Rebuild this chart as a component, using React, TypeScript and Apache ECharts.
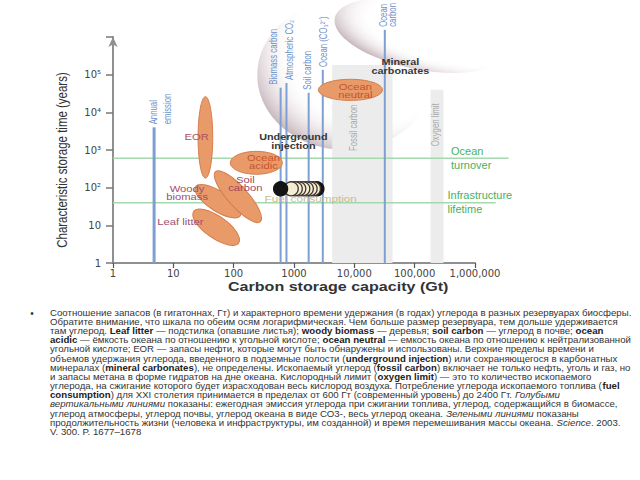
import React, { useEffect, useRef } from 'react';
import * as echarts from 'echarts';

// ---------- axes ----------
const xTickValues = [1, 10, 100, 1000, 10000, 100000, 1000000];
const xTickText = ['1', '10', '100', '1000', '10,000', '100,000', '1,000,000'];
const yTickValues = [1, 10, 100, 1000, 10000, 100000];
const yTickText = ['1', '10', '10²', '10³', '10⁴', '10⁵'];

// ---------- blue vertical lines (reservoirs) ----------
const reservoirNames = ['Annual\nemission', 'Biomass carbon', 'Atmospheric CO₂', 'Soil carbon', 'Ocean (CO₃²⁻)', 'Ocean\ncarbon'];
const reservoirCapacity = [4.8, 600, 750, 1750, 3000, 32000];
const reservoirTime = [4000, 45000, 60000, 33000, 134000, 1550000];

// ---------- green horizontal lines ----------
const timescaleNames = ['Ocean\nturnover', 'Infrastructure\nlifetime'];
const timescaleYears = [600, 40];
const timescaleEndCap = [3600000, 2200000];
const timescaleLabelCap = [400000, 350000];

// ---------- orange ellipses (major-axis ends in data coords) ----------
const ellipseNames = ['EOR', 'Woody\nbiomass', 'Leaf litter', 'Soil\ncarbon', 'Ocean\nacidic', 'Ocean\nneutral'];
const ellipseStartCap = [34, 23.4, 21.7, 50, 88, 2535];
const ellipseStartTime = [26000, 106, 23.4, 265, 457, 39500];
const ellipseEndCap = [34, 129, 121, 277, 640, 29200];
const ellipseEndTime = [180, 18, 3.4, 12.5, 457, 39500];
const ellipseAspect = [0.18, 0.37, 0.4, 0.3, 0.44, 0.33];
const ellipseLabelCap = [24.3, 16.9, 13.1, 156, 312, 10400];
const ellipseLabelTime = [2240, 72.8, 12.7, 127, 486, 37000];

// ---------- grey bands ----------
const bandNames = ['Fossil carbon', 'Oxygen limit'];
const bandFromCap = [4300, 184000];
const bandToCap = [43000, 300000];
const bandTopTime = [180000, 40000];
const bandLabelCap = [9660, 221000];
const bandLabelTime = [3870, 4650];

// ---------- undefined upper limits (fuzzy zones) ----------
const zoneNames = ['Underground\ninjection', 'Mineral\ncarbonates'];
const zoneCenterCap = [7100, 125000];
const zoneCenterTime = [98000, 1100000];
const zoneHalfWidthDec = [1.46, 1.45];
const zoneHalfHeightDec = [1.99, 0.9];
const zoneLabelCap = [975, 58000];
const zoneLabelTime = [1700, 166000];

// ---------- fuel consumption ----------
const fuelCapacity = [2400, 2100, 1850, 1600, 1400, 1200, 1050, 900, 600];
const fuelTime = 93;
const fuelLabel = 'Fuel consumption';
const fuelLabelCap = 1890;
const fuelLabelTime = 50;

// ---------- caption ----------
const captionLines = [
  'Соотношение запасов (в гигатоннах, Гт) и характерного времени удержания (в годах) углерода в разных резервуарах биосферы.',
  'Обратите внимание, что шкала по обеим осям логарифмическая. Чем больше размер резервуара, тем дольше удерживается',
  'там углерод. {b|Leaf litter} — подстилка (опавшие листья); {b|woody biomass} — деревья; {b|soil carbon} — углерод в почве; {b|ocean}',
  '{b|acidic} — ёмкость океана по отношению к угольной кислоте; {b|ocean neutral} — емкость океана по отношению к нейтрализованной',
  'угольной кислоте; EOR — запасы нефти, которые могут быть обнаружены и использованы. Верхние пределы времени и',
  'объемов удержания углерода, введенного в подземные полости ({b|underground injection}) или сохраняющегося в карбонатных',
  'минералах ({b|mineral carbonates}), не определены. Ископаемый углерод ({b|fossil carbon}) включает не только нефть, уголь и газ, но',
  'и запасы метана в форме гидратов на дне океана. Кислородный лимит ({b|oxygen limit}) — это то количество ископаемого',
  'углерода, на сжигание которого будет израсходован весь кислород воздуха. Потребление углерода ископаемого топлива ({b|fuel}',
  '{b|consumption}) для XXI столетия принимается в пределах от 600 Гт (современный уровень) до 2400 Гт. {i|Голубыми}',
  '{i|вертикальными линиями} показаны: ежегодная эмиссия углерода при сжигании топлива, углерод, содержащийся в биомассе,',
  'углерод атмосферы, углерод почвы, углерод океана в виде СО3-, весь углерод океана. {i|Зелеными линиями} показаны',
  'продолжительность жизни (человека и инфраструктуры, им созданной) и время перемешивания массы океана. {i|Science}. 2003.',
  'V. 300. P. 1677–1678',
];

// ---------- styles ----------
const FONT = '"Liberation Sans", Arial, Helvetica, sans-serif';
const BLUE = '#7d9fd2';
const BLUE_TEXT = '#6b91cb';
const GREEN = '#a3d9ac';
const GREEN_TEXT = '#48b062';
const ORANGE = '#e99a69';
const ORANGE_EDGE = '#d47d4c';
const reservoirLineWidth = [3, 2, 2, 2, 2, 2];
const reservoirLabelShift = [7, -7, 3, -1, 1, 3];
const reservoirLabelLineHeight = [14, 11, 11, 11, 11, 9];
const ellipseLabelColor = ['#b0505e', '#a24e70', '#a24e70', '#a2465e', '#c5532d', '#c5532d'];
const T_MIN = 1;
const CAP_MIN = 1;

const idx = (vals: number[], v: number) =>
  vals.findIndex((t) => Math.abs(Math.log10(t) - Math.log10(v)) < 1e-6);

const renderZone = (params: any, api: any) => {
  const i = params.dataIndex;
  const c = api.coord([zoneCenterCap[i], zoneCenterTime[i]]);
  const d = api.coord([zoneCenterCap[i] * 10, zoneCenterTime[i] * 10]);
  const rx = zoneHalfWidthDec[i] * (d[0] - c[0]);
  const ry = zoneHalfHeightDec[i] * (c[1] - d[1]);
  return {
    type: 'ellipse',
    x: c[0],
    y: c[1],
    rotation: i === 1 ? -0.2 : 0,
    shape: { cx: 0, cy: 0, rx, ry },
    style: {
      fill: new echarts.graphic.RadialGradient(0.66, 0.34, 0.74, [
        { offset: 0, color: 'rgba(255,255,255,0)' },
        { offset: 0.62, color: 'rgba(255,255,255,0)' },
        { offset: 0.84, color: 'rgba(226,216,220,0.7)' },
        { offset: 1, color: 'rgba(192,175,181,1)' },
      ]),
    },
  };
};

const renderZoneLabel = (params: any, api: any) => {
  const i = params.dataIndex;
  const p = api.coord([zoneLabelCap[i], zoneLabelTime[i]]);
  return {
    type: 'text',
    x: p[0],
    y: p[1],
    scaleX: 1.2,
    style: {
      text: zoneNames[i],
      fill: '#383838',
      font: `bold 9px ${FONT}`,
      align: 'center',
      verticalAlign: 'middle',
      lineHeight: 8.5,
    },
  };
};

const renderBand = (params: any, api: any) => {
  const i = params.dataIndex;
  const a = api.coord([bandFromCap[i], T_MIN]);
  const b = api.coord([bandToCap[i], bandTopTime[i]]);
  const l = api.coord([bandLabelCap[i], bandLabelTime[i]]);
  return {
    type: 'group',
    children: [
      { type: 'rect', shape: { x: a[0], y: b[1], width: b[0] - a[0], height: a[1] - b[1] }, style: { fill: '#ececec' } },
      {
        type: 'text', x: l[0], y: l[1], rotation: Math.PI / 2, scaleX: 0.78,
        style: { text: bandNames[i], fill: '#a8a8a8', font: `10px ${FONT}`, align: 'center', verticalAlign: 'middle' },
      },
    ],
  };
};

const renderTimescale = (params: any, api: any) => {
  const i = params.dataIndex;
  const a = api.coord([CAP_MIN, timescaleYears[i]]);
  const b = api.coord([timescaleEndCap[i], timescaleYears[i]]);
  const l = api.coord([timescaleLabelCap[i], timescaleYears[i]]);
  return {
    type: 'group',
    children: [
      { type: 'line', shape: { x1: a[0], y1: a[1], x2: b[0], y2: b[1] }, style: { stroke: GREEN, lineWidth: 1.5 } },
      {
        type: 'text', x: l[0], y: l[1], scaleX: 1.1,
        style: { text: timescaleNames[i], fill: GREEN_TEXT, font: `10px ${FONT}`, align: 'left', verticalAlign: 'middle', lineHeight: 14 },
      },
    ],
  };
};

const renderReservoir = (params: any, api: any) => {
  const i = params.dataIndex;
  const bottom = api.coord([reservoirCapacity[i], T_MIN]);
  const top = api.coord([reservoirCapacity[i], reservoirTime[i]]);
  return {
    type: 'group',
    children: [
      { type: 'line', shape: { x1: bottom[0], y1: bottom[1], x2: top[0], y2: top[1] }, style: { stroke: BLUE, lineWidth: reservoirLineWidth[i] } },
      {
        type: 'text', x: top[0] + reservoirLabelShift[i], y: top[1] - 3, rotation: Math.PI / 2, scaleX: 0.78,
        style: { text: reservoirNames[i], fill: BLUE_TEXT, font: `10px ${FONT}`, align: 'left', verticalAlign: 'middle', lineHeight: reservoirLabelLineHeight[i] },
      },
    ],
  };
};

const renderEllipse = (params: any, api: any) => {
  const i = params.dataIndex;
  const a = api.coord([ellipseStartCap[i], ellipseStartTime[i]]);
  const b = api.coord([ellipseEndCap[i], ellipseEndTime[i]]);
  const dx = b[0] - a[0];
  const dy = b[1] - a[1];
  const half = Math.hypot(dx, dy) / 2;
  const l = api.coord([ellipseLabelCap[i], ellipseLabelTime[i]]);
  return {
    type: 'group',
    children: [
      {
        type: 'ellipse', x: (a[0] + b[0]) / 2, y: (a[1] + b[1]) / 2, rotation: Math.atan2(-dy, dx),
        shape: { cx: 0, cy: 0, rx: half, ry: half * ellipseAspect[i] },
        style: { fill: ORANGE, stroke: ORANGE_EDGE, lineWidth: 1 },
      },
      {
        type: 'text', x: l[0], y: l[1], scaleX: 1.25,
        style: { text: ellipseNames[i], fill: ellipseLabelColor[i], font: `9px ${FONT}`, align: 'center', verticalAlign: 'middle', lineHeight: 8.5 },
      },
    ],
  };
};

const renderFuel = (params: any, api: any) => {
  const i = params.dataIndex;
  const p = api.coord([fuelCapacity[i], fuelTime]);
  const dark = i === 0 || i === fuelCapacity.length - 1;
  const children: any[] = [
    {
      type: 'circle', shape: { cx: p[0], cy: p[1], r: 7 },
      style: { fill: dark ? '#141414' : '#f4ecd3', stroke: dark ? '#141414' : '#3e352c', lineWidth: 1.3 },
    },
  ];
  if (i === 0) {
    const l = api.coord([fuelLabelCap, fuelLabelTime]);
    children.push({
      type: 'text', x: l[0], y: l[1], scaleX: 1.3,
      style: { text: fuelLabel, fill: '#c9bb8e', font: `9px ${FONT}`, align: 'center', verticalAlign: 'middle' },
    });
  }
  return { type: 'group', children };
};

const CAPTION_TOP = 313;
const CAPTION_STEP = 9.15;
const CAPTION_SCALE = 1.074;
const captionFont = { fontSize: 9, fontFamily: FONT };

const option: any = {
  animation: false,
  backgroundColor: '#ffffff',
  grid: { left: 113, top: 37, width: 362, height: 226, containLabel: false, outerBoundsMode: 'none' },
  xAxis: {
    type: 'log', logBase: 10, min: 1, max: 1000000,
    axisLine: { onZero: false, lineStyle: { color: '#909090', width: 2 } },
    axisTick: { length: 5, lineStyle: { color: '#555', width: 1.2 } },
    axisLabel: {
      margin: 5, fontSize: 10, fontFamily: '"DejaVu Sans", sans-serif', color: '#444',
      formatter: (v: number) => { const k = idx(xTickValues, v); return k >= 0 ? xTickText[k] : ''; },
    },
    splitLine: { show: false },
  },
  yAxis: {
    type: 'log', logBase: 10, min: 1, max: 1000000,
    axisLine: { onZero: false, symbol: ['none', 'arrow'], symbolSize: [7, 10], lineStyle: { color: '#909090', width: 2 } },
    axisTick: { length: 7, lineStyle: { color: '#777', width: 1.5 } },
    axisLabel: {
      margin: 12, fontSize: 10, fontFamily: '"DejaVu Sans", sans-serif', color: '#444',
      formatter: (v: number) => { const k = idx(yTickValues, v); return k >= 0 ? yTickText[k] : ''; },
    },
    splitLine: { show: false },
  },
  graphic: [
    {
      type: 'text', x: 63, y: 160, rotation: Math.PI / 2, scaleY: 1.2,
      style: { text: 'Characteristic storage time (years)', fill: '#333', font: `11.5px ${FONT}`, align: 'center', verticalAlign: 'middle' },
    },
    {
      type: 'text', x: 228, y: 287, scaleX: 1.34,
      style: { text: 'Carbon storage capacity (Gt)', fill: '#333', font: `bold 12px ${FONT}`, align: 'left', verticalAlign: 'middle' },
    },
    {
      type: 'text', x: 32, y: CAPTION_TOP,
      style: { text: '•', fill: '#333', font: `10px ${FONT}`, align: 'center', verticalAlign: 'middle' },
    },
    ...captionLines.map((line, k) => ({
      type: 'text', x: 50, y: CAPTION_TOP + k * CAPTION_STEP, scaleX: CAPTION_SCALE,
      style: {
        text: line, fill: '#333', ...captionFont, align: 'left', verticalAlign: 'middle',
        rich: {
          b: { ...captionFont, fontWeight: 'bold', fill: '#222' },
          i: { ...captionFont, fontStyle: 'italic', fill: '#333' },
        },
      },
    })),
  ],
  series: [
    { type: 'custom', name: 'zones', z: 1, clip: false, silent: true, encode: { x: 0, y: 1 },
      data: zoneNames.map((_, i) => [zoneCenterCap[i], zoneCenterTime[i]]), renderItem: renderZone },
    { type: 'custom', name: 'bands', z: 2, clip: false, silent: true, encode: { x: 0, y: 1 },
      data: bandNames.map((_, i) => [bandFromCap[i], bandTopTime[i]]), renderItem: renderBand },
    { type: 'custom', name: 'timescales', z: 3, clip: false, silent: true, encode: { x: 0, y: 1 },
      data: timescaleNames.map((_, i) => [timescaleEndCap[i], timescaleYears[i]]), renderItem: renderTimescale },
    { type: 'custom', name: 'reservoirs', z: 4, clip: false, silent: true, encode: { x: 0, y: 1 },
      data: reservoirNames.map((_, i) => [reservoirCapacity[i], reservoirTime[i]]), renderItem: renderReservoir },
    { type: 'custom', name: 'ellipses', z: 5, clip: false, silent: true, encode: { x: 0, y: 1 },
      data: ellipseNames.map((_, i) => [ellipseStartCap[i], ellipseStartTime[i]]), renderItem: renderEllipse },
    { type: 'custom', name: 'fuel', z: 6, clip: false, silent: true, encode: { x: 0, y: 1 },
      data: fuelCapacity.map((c) => [c, fuelTime]), renderItem: renderFuel },
    { type: 'custom', name: 'zoneLabels', z: 7, clip: false, silent: true, encode: { x: 0, y: 1 },
      data: zoneNames.map((_, i) => [zoneLabelCap[i], zoneLabelTime[i]]), renderItem: renderZoneLabel },
  ],
};

export default function App() {
  const ref = useRef<HTMLDivElement>(null);
  useEffect(() => {
    if (!ref.current) return;
    const chart = echarts.init(ref.current, null, { renderer: 'svg' });
    chart.setOption(option);
    return () => chart.dispose();
  }, []);
  return (
    <div
      ref={ref}
      style={{ position: 'fixed', left: 0, top: 0, width: 640, height: 480, background: '#fff' }}
    />
  );
}
